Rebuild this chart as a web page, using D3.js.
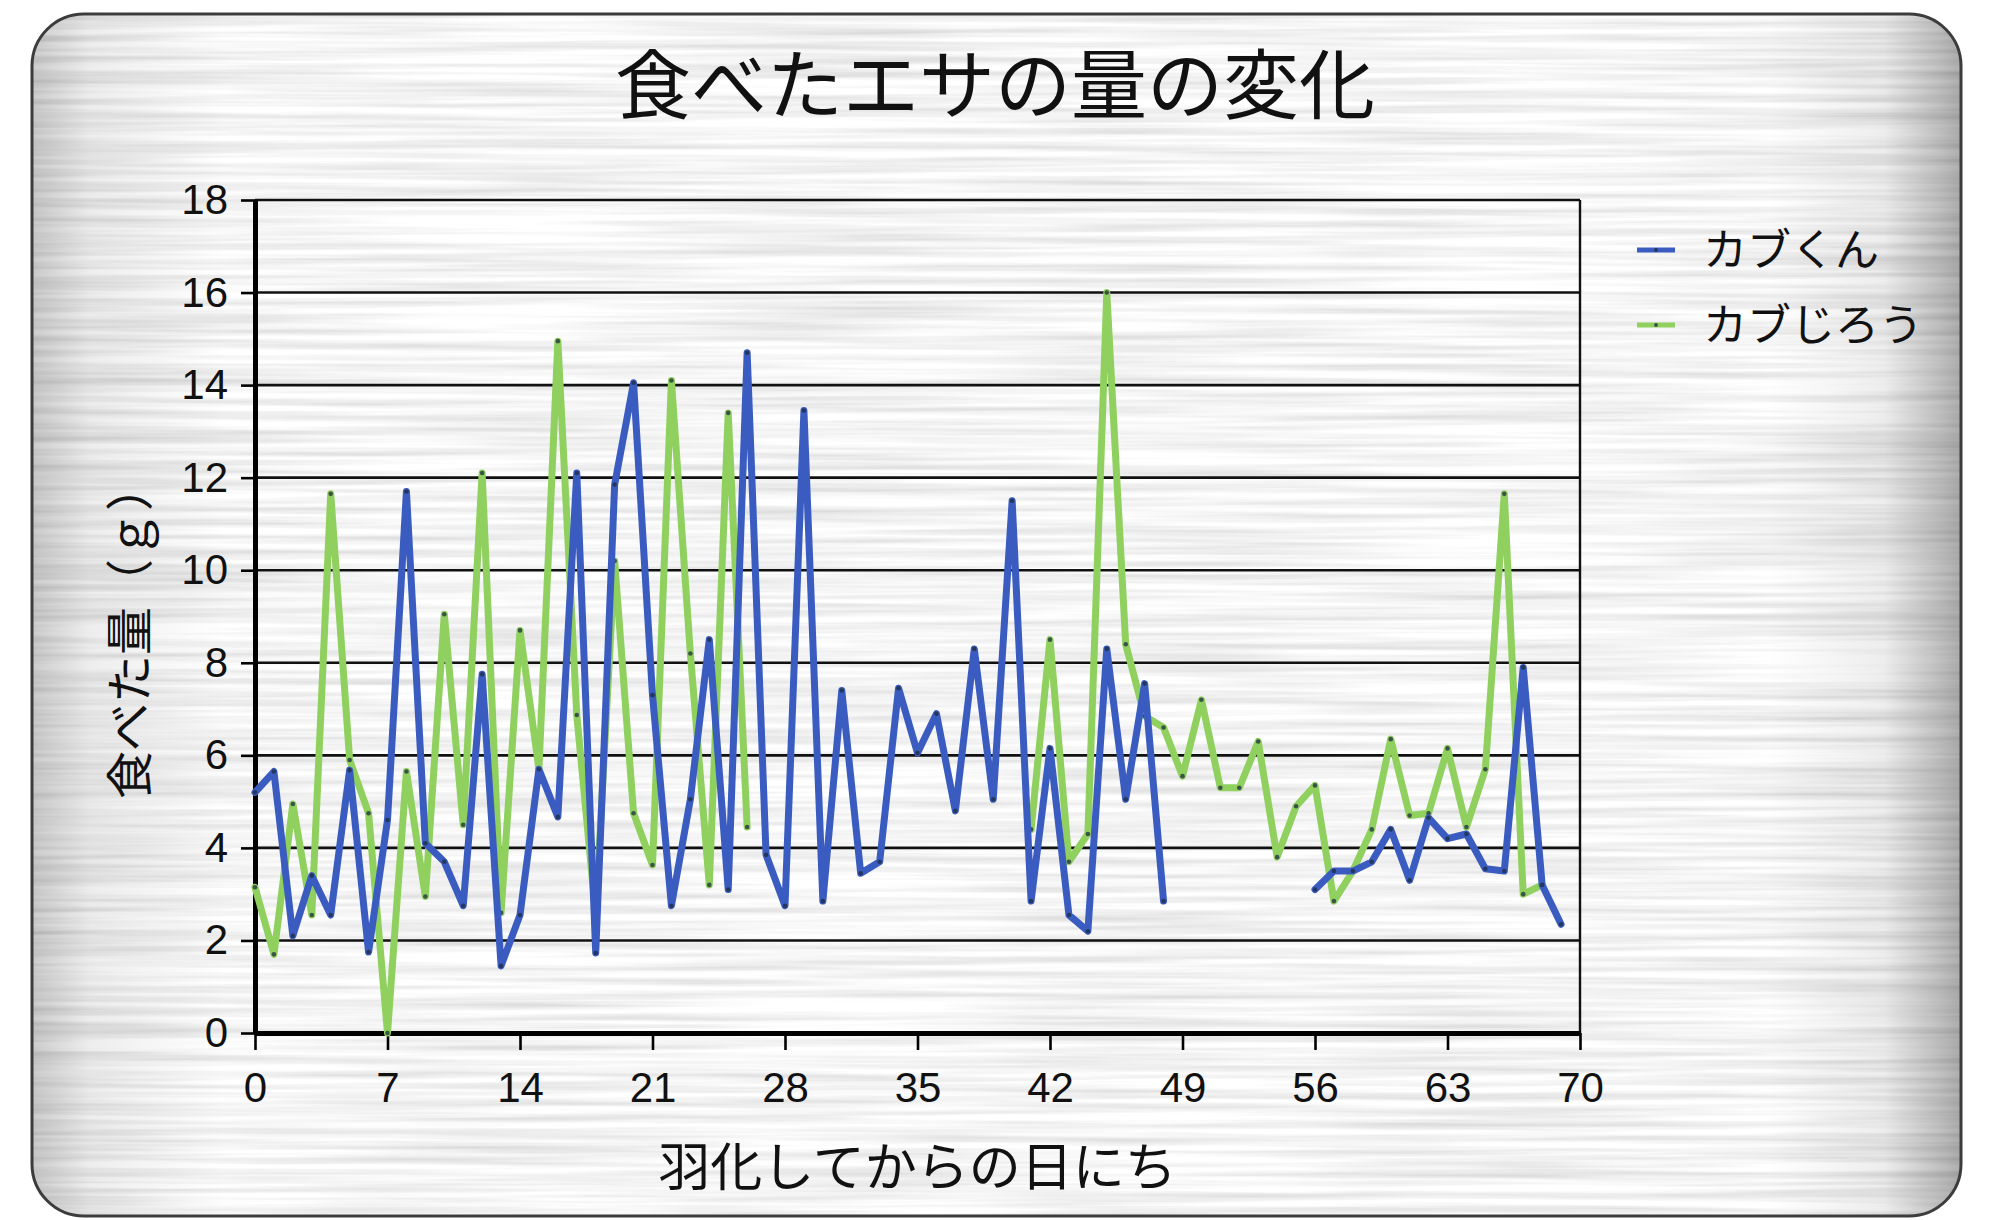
<!DOCTYPE html>
<html>
<head>
<meta charset="utf-8">
<script src="https://cdn.jsdelivr.net/npm/d3@7/dist/d3.min.js"></script>
<style>
  body { margin: 0; background: #fff; }
  svg { display: block; }
</style>
</head>
<body>
<svg id="chart" width="1990" height="1220"></svg>
<script>
// ---- chart data -------------------------------------------------------
const chartTitle = "食べたエサの量の変化";
const xTitle = "羽化してからの日にち";
const yTitle = "食べた量（ｇ）";
const seriesNames = ["カブくん", "カブじろう"];
const seriesColors = ["#3a5cc0", "#8fd05f"];
const xTicks = [0, 7, 14, 21, 28, 35, 42, 49, 56, 63, 70];
const yTicks = [0, 2, 4, 6, 8, 10, 12, 14, 16, 18];

// grams eaten, one entry per day after emergence (index = day); null = no record
const kabukun = [
  5.2, 5.65, 2.1, 3.4, 2.55, 5.68, 1.75, 4.6, 11.7, 4.1,
  3.7, 2.75, 7.75, 1.45, 2.55, 5.7, 4.67, 12.1, 1.73, 11.85,
  14.05, 7.3, 2.75, 5.05, 8.5, 3.1, 14.7, 3.85, 2.75, 13.45,
  2.85, 7.4, 3.45, 3.7, 7.45, 6.05, 6.9, 4.8, 8.3, 5.05,
  11.5, 2.85, 6.15, 2.55, 2.2, 8.3, 5.05, 7.55, 2.85, null,
  null, null, null, null, null, null, 3.1, 3.5, 3.5, 3.7,
  4.4, 3.3, 4.65, 4.2, 4.3, 3.55, 3.5, 7.9, 3.2, 2.35,
  null
];
const kabujirou = [
  3.15, 1.7, 4.95, 2.55, 11.65, 5.9, 4.75, 0, 5.65, 2.95,
  9.05, 4.5, 12.1, 2.6, 8.7, 5.7, 14.95, 6.87, 2.55, 10.2,
  4.75, 3.63, 14.1, 8.2, 3.2, 13.4, 4.45, null, null, null,
  null, null, null, null, null, null, null, null, null, null,
  null, 4.4, 8.5, 3.7, 4.3, 16.0, 8.4, 6.85, 6.6, 5.55,
  7.2, 5.3, 5.3, 6.3, 3.8, 4.9, 5.35, 2.85, 3.5, 4.4,
  6.35, 4.7, 4.75, 6.15, 4.45, 5.7, 11.65, 3.0, 3.2, null,
  null
];
const seriesValues = [kabukun, kabujirou];

// ---- layout ------------------------------------------------------------
const W = 1990, H = 1220;
const plot = { left: 255, right: 1580, top: 200, bottom: 1033 };
const frame = { x: 32, y: 14, w: 1929, h: 1202, r: 52 };

const svg = d3.select("#chart");
const defs = svg.append("defs");

// brushed-metal streak texture
const f = defs.append("filter").attr("id", "brushed")
  .attr("filterUnits", "userSpaceOnUse")
  .attr("x", 0).attr("y", 0).attr("width", W).attr("height", H);
f.append("feTurbulence")
  .attr("type", "fractalNoise")
  .attr("baseFrequency", "0.003 0.14")
  .attr("numOctaves", 3)
  .attr("seed", 11)
  .attr("result", "noise");
f.append("feColorMatrix")
  .attr("in", "noise")
  .attr("type", "matrix")
  .attr("values", "0.5 0 0 0 0.66  0.5 0 0 0 0.66  0.5 0 0 0 0.66  0 0 0 0 1");

// metal sheen: darker toward the side edges
const sheen = defs.append("linearGradient").attr("id", "sheen")
  .attr("x1", 0).attr("x2", 1).attr("y1", 0).attr("y2", 0);
[[0, "#000", 0.2], [0.03, "#000", 0.07], [0.1, "#000", 0.0], [0.9, "#000", 0.0],
 [0.96, "#000", 0.07], [0.99, "#000", 0.25], [1, "#000", 0.32]]
  .forEach(([o, c, a]) => sheen.append("stop").attr("offset", o)
    .attr("stop-color", c).attr("stop-opacity", a));

defs.append("clipPath").attr("id", "frameClip")
  .append("rect")
  .attr("x", frame.x).attr("y", frame.y)
  .attr("width", frame.w).attr("height", frame.h)
  .attr("rx", frame.r).attr("ry", frame.r);

// ---- frame -------------------------------------------------------------
const bg = svg.append("g").attr("clip-path", "url(#frameClip)");
bg.append("rect")
  .attr("x", frame.x).attr("y", frame.y)
  .attr("width", frame.w).attr("height", frame.h)
  .attr("fill", "#e6e6e6")
  .attr("filter", "url(#brushed)");
bg.append("rect")
  .attr("x", frame.x).attr("y", frame.y)
  .attr("width", frame.w).attr("height", frame.h)
  .attr("fill", "url(#sheen)");
svg.append("rect")
  .attr("x", frame.x).attr("y", frame.y)
  .attr("width", frame.w).attr("height", frame.h)
  .attr("rx", frame.r).attr("ry", frame.r)
  .attr("fill", "none")
  .attr("stroke", "#3c3c3c")
  .attr("stroke-width", 3);

// ---- scales ------------------------------------------------------------
const x = d3.scaleLinear().domain([0, 70]).range([plot.left, plot.right]);
const y = d3.scaleLinear().domain([0, 18]).range([plot.bottom, plot.top]);

// ---- grid & axes -------------------------------------------------------
const grid = svg.append("g");
grid.selectAll("line.h")
  .data(yTicks.filter(v => v > 0))
  .join("line")
  .attr("x1", plot.left).attr("x2", plot.right)
  .attr("y1", d => y(d)).attr("y2", d => y(d))
  .attr("stroke", "#111").attr("stroke-width", 2.6);
grid.append("line")
  .attr("x1", plot.right).attr("x2", plot.right)
  .attr("y1", plot.top).attr("y2", plot.bottom)
  .attr("stroke", "#111").attr("stroke-width", 2.4);

const tickFont = "'Liberation Sans', Arial, sans-serif";

const yAxis = svg.append("g")
  .attr("transform", `translate(${plot.left},0)`)
  .call(d3.axisLeft(y).tickValues(yTicks).tickSize(14).tickPadding(13).tickSizeOuter(0));
yAxis.select(".domain").attr("stroke", "#000").attr("stroke-width", 5);
yAxis.selectAll(".tick line").attr("stroke", "#000").attr("stroke-width", 2.6);
yAxis.selectAll(".tick text")
  .attr("fill", "#111")
  .style("font-family", tickFont)
  .style("font-size", "42px");

const xAxis = svg.append("g")
  .attr("transform", `translate(0,${plot.bottom})`)
  .call(d3.axisBottom(x).tickValues(xTicks).tickSize(17).tickPadding(22).tickSizeOuter(0));
xAxis.select(".domain").attr("stroke", "#000").attr("stroke-width", 5);
xAxis.selectAll(".tick line").attr("stroke", "#000").attr("stroke-width", 2.6);
xAxis.selectAll(".tick text")
  .attr("fill", "#111")
  .style("font-family", tickFont)
  .style("font-size", "42px");

// ---- series ------------------------------------------------------------
const line = d3.line()
  .defined(d => d.v !== null)
  .x(d => x(d.day))
  .y(d => y(d.v));

const seriesData = seriesValues.map((vals, i) => ({
  name: seriesNames[i],
  color: seriesColors[i],
  points: vals.map((v, day) => ({ day, v }))
}));

// green drawn first so the blue series sits on top
const order = [1, 0];
order.forEach(i => {
  const s = seriesData[i];
  const g = svg.append("g");
  g.append("path")
    .datum(s.points)
    .attr("d", line)
    .attr("fill", "none")
    .attr("stroke", s.color)
    .attr("stroke-width", 7)
    .attr("stroke-linejoin", "round")
    .attr("stroke-linecap", "round");
  g.selectAll("circle")
    .data(s.points.filter(d => d.v !== null))
    .join("circle")
    .attr("cx", d => x(d.day))
    .attr("cy", d => y(d.v))
    .attr("r", 2.3)
    .attr("fill", "#1d2b3c")
    .attr("opacity", 0.75);
});

// ---- titles ------------------------------------------------------------
const jpFont = "'Noto Sans CJK JP', 'Noto Sans CJK SC', sans-serif";

svg.append("text")
  .attr("x", 995).attr("y", 113)
  .attr("text-anchor", "middle")
  .style("font-family", jpFont)
  .style("font-size", "76px")
  .attr("fill", "#111")
  .text(chartTitle);

svg.append("text")
  .attr("x", (plot.left + plot.right) / 2).attr("y", 1186)
  .attr("text-anchor", "middle")
  .style("font-family", jpFont)
  .style("font-size", "52px")
  .attr("fill", "#111")
  .text(xTitle);

svg.append("text")
  .attr("transform", "translate(147,631) rotate(-90)")
  .attr("text-anchor", "middle")
  .style("font-family", jpFont)
  .style("font-size", "48px")
  .attr("fill", "#111")
  .text(yTitle);

// ---- legend ------------------------------------------------------------
const legend = svg.append("g").attr("transform", "translate(1637,250)");
seriesData.forEach((s, i) => {
  const row = legend.append("g").attr("transform", `translate(0,${i * 75})`);
  row.append("line")
    .attr("x1", 0).attr("x2", 38)
    .attr("stroke", s.color).attr("stroke-width", 5);
  row.append("circle").attr("cx", 19).attr("r", 2).attr("fill", "#1d2b3c").attr("opacity", 0.75);
  row.append("text")
    .attr("x", 66).attr("y", 0)
    .attr("dy", "0.36em")
    .style("font-family", jpFont)
    .style("font-size", "44px")
    .attr("fill", "#111")
    .text(s.name);
});
</script>
</body>
</html>
